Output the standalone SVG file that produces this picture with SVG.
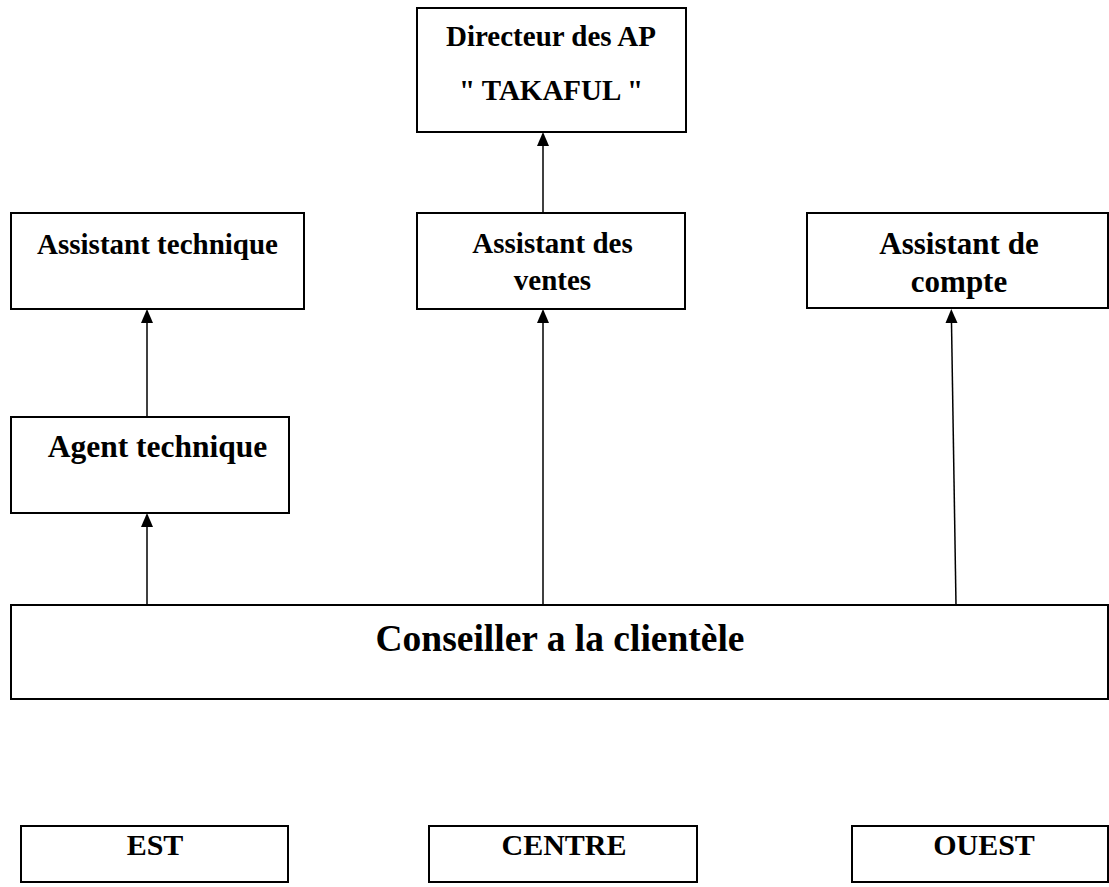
<svg xmlns="http://www.w3.org/2000/svg" width="1109" height="887" viewBox="0 0 1109 887">
<style>
.box{fill:#fff;stroke:#000;stroke-width:2}
.t{font-family:"Liberation Serif","Times New Roman",serif;font-weight:bold;fill:#000;text-anchor:middle}
.conn{stroke:#000;stroke-width:1.5;fill:none}
.head{fill:#000}
</style>
<rect width="1109" height="887" fill="#fff"/>
<g id="connectors">
<path class="conn" d="M543,213 L543,146"/>
<path class="head" d="M543,132 L549,146 L537,146 Z"/>
<path class="conn" d="M147,417 L147,323"/>
<path class="head" d="M147,309 L153,323 L141,323 Z"/>
<path class="conn" d="M147,605 L147,527"/>
<path class="head" d="M147,513 L153,527 L141,527 Z"/>
<path class="conn" d="M543,605 L543,323"/>
<path class="head" d="M543,309 L549,323 L537,323 Z"/>
<path class="conn" d="M956,605 L951.5,323"/>
<path class="head" d="M951.3,309 L957.5,323 L945.5,323 Z"/>
</g>
<g id="directeur">
<rect class="box" x="417" y="8" width="269" height="124"/>
<text class="t" x="551" y="46" font-size="29">Directeur des AP</text>
<text class="t" x="551" y="100" font-size="29">" TAKAFUL "</text>
</g>
<g id="assistant-technique">
<rect class="box" x="11" y="213" width="293" height="96"/>
<text class="t" x="157.5" y="254" font-size="29">Assistant technique</text>
</g>
<g id="assistant-ventes">
<rect class="box" x="417" y="213" width="268" height="96"/>
<text class="t" x="552.5" y="253" font-size="29">Assistant des</text>
<text class="t" x="552.5" y="290" font-size="29">ventes</text>
</g>
<g id="assistant-compte">
<rect class="box" x="807" y="213" width="301" height="95"/>
<text class="t" x="959" y="254" font-size="31">Assistant de</text>
<text class="t" x="959" y="292" font-size="31">compte</text>
</g>
<g id="agent-technique">
<rect class="box" x="11" y="417" width="278" height="96"/>
<text class="t" x="157.5" y="457" font-size="31.5">Agent technique</text>
</g>
<g id="conseiller">
<rect class="box" x="11" y="605" width="1097" height="94"/>
<text class="t" x="560" y="651" font-size="37.5">Conseiller a la clientèle</text>
</g>
<g id="est">
<rect class="box" x="21" y="826" width="267" height="56"/>
<text class="t" x="155" y="855" font-size="30">EST</text>
</g>
<g id="centre">
<rect class="box" x="429" y="826" width="268" height="56"/>
<text class="t" x="564" y="855" font-size="30">CENTRE</text>
</g>
<g id="ouest">
<rect class="box" x="852" y="826" width="256" height="56"/>
<text class="t" x="984" y="855" font-size="30">OUEST</text>
</g>
</svg>
